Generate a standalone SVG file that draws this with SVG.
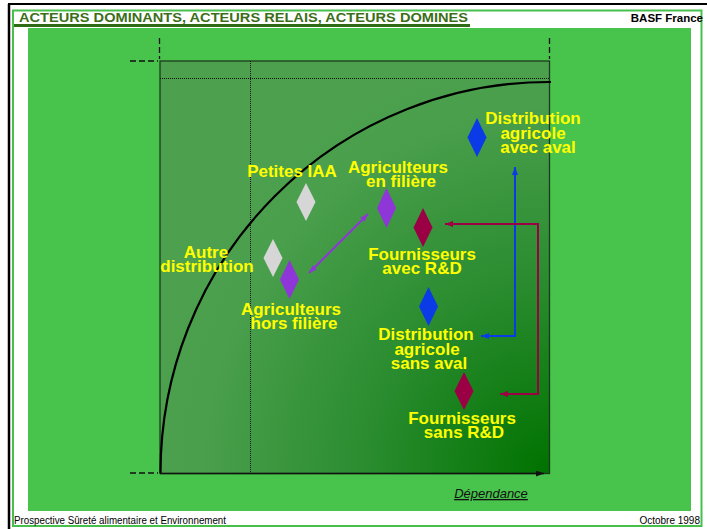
<svg xmlns="http://www.w3.org/2000/svg" width="707" height="529" viewBox="0 0 707 529">
<style>
.lbl{font-family:"Liberation Sans",Arial,sans-serif;font-weight:bold;font-size:17px;fill:#ffff00;text-anchor:middle}
.foot{font-family:"Liberation Sans",Arial,sans-serif;font-size:10px;fill:#000}
.dot{stroke:#111;stroke-width:1;stroke-dasharray:1,1;fill:none}
.dash{stroke:#111;stroke-width:1.3;stroke-dasharray:6,3;fill:none}
.gray{fill:#d6d6d6}.purple{fill:#8f36d8}.crimson{fill:#9b0044}.blue{fill:#0b3be6}
</style>
<defs>
<radialGradient id="g" cx="1" cy="1" r="1.05" fx="1" fy="1">
<stop offset="0" stop-color="#007200"/>
<stop offset="0.45" stop-color="#2a8c2f"/>
<stop offset="0.85" stop-color="#4a9f4c"/>
<stop offset="1" stop-color="#4da14e"/>
</radialGradient>
<marker id="ap" viewBox="0 0 8 6" markerWidth="8" markerHeight="6" refX="8" refY="3" orient="auto-start-reverse" markerUnits="userSpaceOnUse"><path d="M0,0L8,3L0,6z" fill="#8f36d8"/></marker>
<marker id="ab" viewBox="0 0 8 6" markerWidth="8" markerHeight="6" refX="8" refY="3" orient="auto-start-reverse" markerUnits="userSpaceOnUse"><path d="M0,0L8,3L0,6z" fill="#0b3be6"/></marker>
<marker id="ac" viewBox="0 0 8 6" markerWidth="8" markerHeight="6" refX="8" refY="3" orient="auto-start-reverse" markerUnits="userSpaceOnUse"><path d="M0,0L8,3L0,6z" fill="#9b0044"/></marker>
<marker id="ak" viewBox="0 0 8 6" markerWidth="8" markerHeight="6" refX="8" refY="3" orient="auto" markerUnits="userSpaceOnUse"><path d="M0,0L8,3L0,6z" fill="#111"/></marker>
</defs>
<rect x="0" y="0" width="707" height="529" fill="#ffffff"/>
<g id="frame">
<line x1="8" y1="4" x2="707" y2="4" stroke="#000" stroke-width="2"/>
<line x1="9" y1="4" x2="9" y2="529" stroke="#000" stroke-width="2.5"/>
<rect x="13" y="10.5" width="688.5" height="515.5" fill="none" stroke="#46c04a" stroke-width="2"/>
<rect x="28" y="28" width="663" height="483" fill="#48c34c"/>
<rect x="14" y="24" width="456" height="3" fill="#2f6a14"/>
<text x="19" y="22" font-family="Liberation Sans,Arial,sans-serif" font-weight="bold" font-size="13.5" fill="#3b6e18" textLength="449" lengthAdjust="spacingAndGlyphs">ACTEURS DOMINANTS, ACTEURS RELAIS, ACTEURS DOMINES</text>
<text x="703" y="22" font-family="Liberation Sans,Arial,sans-serif" font-weight="bold" font-size="11.5" fill="#000" text-anchor="end">BASF France</text>
<text class="foot" x="14" y="524" textLength="212" lengthAdjust="spacingAndGlyphs">Prospective Sûreté alimentaire et Environnement</text>
<text class="foot" x="700" y="524" text-anchor="end">Octobre 1998</text>
</g>
<g id="chart">
<rect x="160" y="61" width="389.5" height="412.5" fill="url(#g)" stroke="#1e3a1e" stroke-width="1.3"/>
<line class="dot" x1="160" y1="78.5" x2="549" y2="78.5"/>
<line class="dot" x1="250.5" y1="61" x2="250.5" y2="473"/>
<line class="dash" x1="159.5" y1="38" x2="159.5" y2="59"/>
<line class="dash" x1="549.5" y1="38" x2="549.5" y2="59"/>
<line class="dash" x1="130" y1="61" x2="158" y2="61"/>
<line class="dash" x1="130" y1="473" x2="158" y2="473"/>
<line x1="160" y1="473.5" x2="544" y2="473.5" stroke="#111" stroke-width="1.3" marker-end="url(#ak)"/>
<path d="M160.5,473 A389,391 0 0 1 551,82" fill="none" stroke="#000" stroke-width="2.2"/>
<text x="491" y="498" font-family="Liberation Sans,Arial,sans-serif" font-style="italic" font-size="13" fill="#111" text-anchor="middle" text-decoration="underline">Dépendance</text>
</g>
<g id="connectors">
<line x1="309" y1="273" x2="368" y2="214" stroke="#8f36d8" stroke-width="2" marker-start="url(#ap)" marker-end="url(#ap)"/>
<polyline points="481,336 515,336 515,167" fill="none" stroke="#0b3be6" stroke-width="2" marker-start="url(#ab)" marker-end="url(#ab)"/>
<polyline points="445,224 538,224 538,394 500,394" fill="none" stroke="#9b0044" stroke-width="2" marker-start="url(#ac)" marker-end="url(#ac)"/>
</g>
<g id="petites-iaa">
<path class="gray" d="M306,183L315.5,202L306,221L296.5,202z"/>
<text class="lbl" x="292" y="177">Petites IAA</text>
</g>
<g id="autre-distribution">
<path class="gray" d="M273,239L282.5,258L273,277L263.5,258z"/>
<text class="lbl" x="206" y="258">Autre</text>
<text class="lbl" x="207" y="272">distribution</text>
</g>
<g id="agriculteurs-hors-filiere">
<path class="purple" d="M289.5,260L299,279.5L289.5,299L280,279.5z"/>
<text class="lbl" x="291" y="315">Agriculteurs</text>
<text class="lbl" x="294" y="329">hors filière</text>
</g>
<g id="agriculteurs-en-filiere">
<path class="purple" d="M386.5,188L396,208L386.5,228L377,208z"/>
<text class="lbl" x="398" y="173">Agriculteurs</text>
<text class="lbl" x="401" y="187">en filière</text>
</g>
<g id="fournisseurs-avec-rd">
<path class="crimson" d="M423,208L432.5,227.5L423,247L413.5,227.5z"/>
<text class="lbl" x="422" y="260">Fournisseurs</text>
<text class="lbl" x="422" y="274">avec R&amp;D</text>
</g>
<g id="distribution-avec-aval">
<path class="blue" d="M477,118L486.5,137.5L477,157L467.5,137.5z"/>
<text class="lbl" x="533" y="124">Distribution</text>
<text class="lbl" x="533" y="139">agricole</text>
<text class="lbl" x="538" y="153">avec aval</text>
</g>
<g id="distribution-sans-aval">
<path class="blue" d="M428.5,287L438,306.5L428.5,326L419,306.5z"/>
<text class="lbl" x="426" y="340">Distribution</text>
<text class="lbl" x="427" y="355">agricole</text>
<text class="lbl" x="429" y="369">sans aval</text>
</g>
<g id="fournisseurs-sans-rd">
<path class="crimson" d="M464,372L473.5,391L464,410L454.5,391z"/>
<text class="lbl" x="462" y="424">Fournisseurs</text>
<text class="lbl" x="464" y="438">sans R&amp;D</text>
</g>
</svg>
